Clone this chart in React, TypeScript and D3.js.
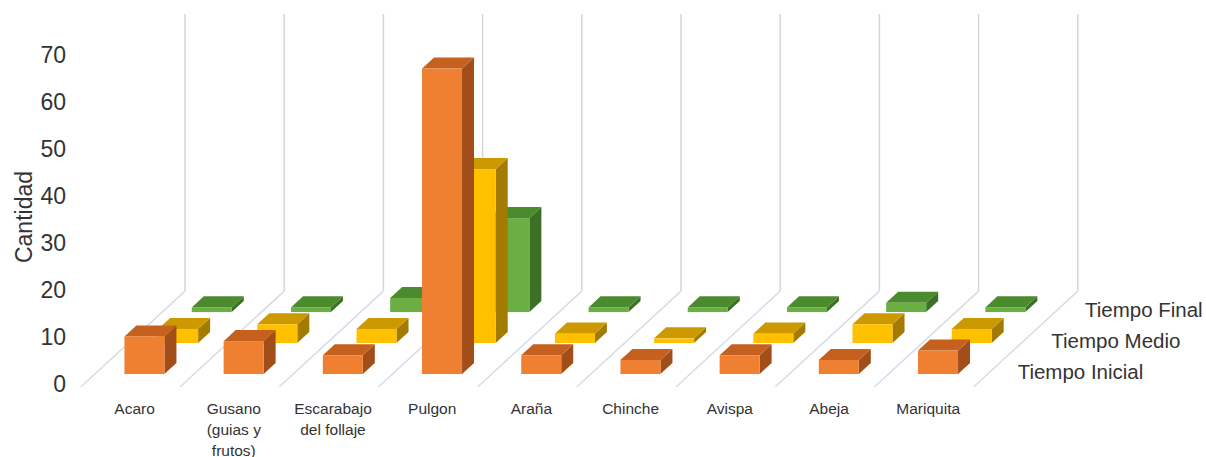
import React from "react";
import * as d3 from "d3";

// Categories (insects) and their wrapped axis labels
const categories = [
  "Acaro",
  "Gusano (guias y frutos)",
  "Escarabajo del follaje",
  "Pulgon",
  "Araña",
  "Chinche",
  "Avispa",
  "Abeja",
  "Mariquita",
];
const categoryLabelLines = [
  ["Acaro"],
  ["Gusano", "(guias y", "frutos)"],
  ["Escarabajo", "del follaje"],
  ["Pulgon"],
  ["Araña"],
  ["Chinche"],
  ["Avispa"],
  ["Abeja"],
  ["Mariquita"],
];

// Series, front row to back row
const seriesNames = ["Tiempo Inicial", "Tiempo Medio", "Tiempo Final"];
const tiempoInicial = [8, 7, 4, 65, 4, 3, 4, 3, 5];
const tiempoMedio = [3, 4, 3, 37, 2, 1, 2, 4, 3];
const tiempoFinal = [1, 1, 3, 20, 1, 1, 1, 2, 1];
const seriesValues = [tiempoInicial, tiempoMedio, tiempoFinal];

const yTicks = [0, 10, 20, 30, 40, 50, 60, 70];
const yLabel = "Cantidad";

// Face colours per series: front, top, side
const palette = [
  { front: "#EF7F31", top: "#C6601F", side: "#A24E1A" },
  { front: "#FFC000", top: "#CC9A00", side: "#A27B00" },
  { front: "#6BAE44", top: "#4C8A2E", side: "#3C7125" },
];

const W = 1206;
const H = 457;

// Oblique projection of the floor
const X0 = 84; // front-left floor corner
const Y0 = 384;
const DEPTH = 101; // horizontal extent of the depth axis
const SLOPE = 0.92; // vertical rise per unit of depth shift
const CAT_STEP = 99.2;
const BAR_W = 40;
const BAR_D = 12;
const TOP_Y = 14;

export default function App() {
  const x = d3
    .scaleBand<string>()
    .domain(categories)
    .range([X0, X0 + CAT_STEP * categories.length])
    .padding(0);
  const depth = d3
    .scalePoint<string>()
    .domain(seriesNames)
    .range([0, DEPTH])
    .padding(0.5);
  const yH = d3.scaleLinear().domain([0, 70]).range([0, 329]);

  const proj = (px: number, d: number, py: number) => [px + d, py - d * SLOPE];

  const step = x.step();
  const barOffset = (step - BAR_W) / 2;

  const font = "'Liberation Sans', Arial, sans-serif";

  // floor grid lines (category boundaries) and back verticals
  const boundaries = d3.range(categories.length + 1).map((i) => X0 + i * step);

  const bars: React.ReactNode[] = [];
  // draw back rows first so nearer bars overlap them
  for (let s = seriesNames.length - 1; s >= 0; s--) {
    const name = seriesNames[s];
    const c = palette[s];
    const d0 = (depth(name) as number) - BAR_D / 2;
    categories.forEach((cat, i) => {
      const v = seriesValues[s][i];
      const [fx, base] = proj((x(cat) as number) + barOffset, d0, Y0);
      const top = base - yH(v);
      const ddx = BAR_D;
      const ddy = -BAR_D * SLOPE;
      const topPts = [
        [fx, top],
        [fx + BAR_W, top],
        [fx + BAR_W + ddx, top + ddy],
        [fx + ddx, top + ddy],
      ];
      const sidePts = [
        [fx + BAR_W, top],
        [fx + BAR_W + ddx, top + ddy],
        [fx + BAR_W + ddx, base + ddy],
        [fx + BAR_W, base],
      ];
      bars.push(
        <g key={`${s}-${i}`}>
          <polygon points={sidePts.map((p) => p.join(",")).join(" ")} fill={c.side} />
          <polygon points={topPts.map((p) => p.join(",")).join(" ")} fill={c.top} />
          <rect x={fx} y={top} width={BAR_W} height={base - top} fill={c.front} />
        </g>
      );
    });
  }

  const rightEdge = X0 + step * categories.length;

  return (
    <svg
      width={W}
      height={H}
      style={{ position: "absolute", left: 0, top: 0, background: "#fff" }}
    >
      <rect x={0} y={0} width={W} height={H} fill="#fff" />
      {/* back verticals */}
      {boundaries.map((bx, i) => {
        const [px, py] = proj(bx, DEPTH, Y0);
        return (
          <line key={`v${i}`} x1={px} x2={px} y1={TOP_Y} y2={py} stroke="#D6D6D6" strokeWidth={1.5} />
        );
      })}
      {/* floor diagonals */}
      {boundaries.map((bx, i) => {
        const [ax, ay] = proj(bx, -3, Y0);
        const [bx2, by2] = proj(bx, DEPTH, Y0);
        return (
          <line key={`f${i}`} x1={ax} y1={ay} x2={bx2} y2={by2} stroke="#D5DCE8" strokeWidth={1.5} />
        );
      })}
      {bars}
      {/* value axis labels */}
      {yTicks.map((t) => (
        <text
          key={`t${t}`}
          x={66}
          y={Y0 - yH(t)}
          textAnchor="end"
          dominantBaseline="central"
          fontFamily={font}
          fontSize={23}
          fill="#333"
        >
          {t}
        </text>
      ))}
      <text
        transform={`translate(24,217) rotate(-90)`}
        textAnchor="middle"
        dominantBaseline="central"
        fontFamily={font}
        fontSize={23}
        fill="#333"
      >
        {yLabel}
      </text>
      {/* category labels */}
      {categories.map((cat, i) => (
        <text
          key={`c${i}`}
          x={(x(cat) as number) + step / 2 + 1}
          y={408}
          textAnchor="middle"
          dominantBaseline="central"
          fontFamily={font}
          fontSize={15.5}
          fill="#333"
        >
          {categoryLabelLines[i].map((ln, j) => (
            <tspan key={j} x={(x(cat) as number) + step / 2 + 1} dy={j === 0 ? 0 : 21}>
              {ln}
            </tspan>
          ))}
        </text>
      ))}
      {/* series (depth) axis labels */}
      {seriesNames.map((name) => {
        const dc = depth(name) as number;
        const [px, py] = proj(rightEdge, dc, Y0);
        return (
          <text
            key={name}
            x={px + 24}
            y={py + 3}
            dominantBaseline="central"
            fontFamily={font}
            fontSize={20.5}
            fill="#333"
          >
            {name}
          </text>
        );
      })}
    </svg>
  );
}
